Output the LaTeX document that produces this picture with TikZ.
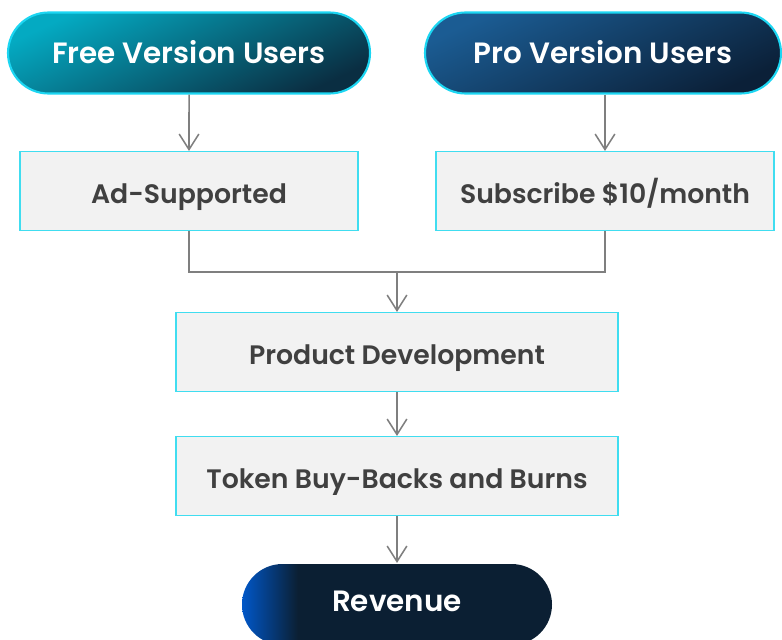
\documentclass[tikz,border=0pt]{standalone}
\usepackage{fontspec}
\setmainfont{Poppins}[BoldFont={Poppins SemiBold}]
\usetikzlibrary{positioning,shapes.misc,arrows.meta}
\definecolor{freeLight}{HTML}{04AAC2}
\definecolor{freeMid}{HTML}{0890A6}
\definecolor{freeDark}{HTML}{0A2E42}
\definecolor{proLight}{HTML}{1B5C93}
\definecolor{proDark}{HTML}{0B2038}
\definecolor{revBlue}{HTML}{0057C8}
\definecolor{revDark}{HTML}{0B1F33}
\definecolor{pillBorder}{HTML}{1CD6F2}
\definecolor{boxBorder}{HTML}{40DDF0}
\definecolor{boxFill}{HTML}{F2F2F2}
\definecolor{boxText}{HTML}{404040}
\definecolor{arrowGray}{HTML}{7F7F7F}
\pgfdeclarehorizontalshading{revenueShade}{100bp}{color(0bp)=(revBlue); color(25bp)=(revBlue); color(34bp)=(revDark); color(100bp)=(revDark)}
\newcommand{\px}{0.025cm}
\tikzstyle{pillStyle} = [rounded rectangle, draw=pillBorder, line width=1.5pt, minimum height=81*\px, text=white, font=\fontsize{20.9}{24}\selectfont\bfseries, inner sep=0pt, text height=16pt, text depth=1.4pt]
\tikzstyle{boxStyle} = [rectangle, draw=boxBorder, fill=boxFill, line width=0.8pt, minimum height=79*\px, text=boxText, font=\fontsize{19}{22}\selectfont\bfseries, inner sep=0pt, text height=18pt, text depth=0.7pt]
\tikzstyle{flowLine} = [draw=arrowGray, line width=1.1pt]
\tikzstyle{flowArrow} = [flowLine, -{Straight Barb[length=11pt,width=14pt]}]
\begin{document}
\begin{tikzpicture}[x=\px, y=-\px]
  \useasboundingbox (0,0) rectangle (782,639);
  % user groups
  \node [pillStyle, minimum width=362*\px, top color=freeLight, middle color=freeMid, bottom color=freeDark, shading angle=25] (freeUsers) at (189,53) {Free Version Users};
  \node [pillStyle, minimum width=356*\px, top color=proLight, bottom color=proDark, shading angle=25] (proUsers) at (603,53) {Pro Version Users};
  % income sources
  \node [boxStyle, minimum width=338*\px] (adSupported) at (189,191) {Ad-Supported};
  \node [boxStyle, minimum width=338*\px] (subscribe) at (605,191) {Subscribe \$10/month};
  \coordinate (joinPoint) at (397,272);
  \node [boxStyle, minimum width=442*\px] (productDev) at (397,352) {Product Development};
  \node [boxStyle, minimum width=442*\px] (buyBacks) at (397,476) {Token Buy-Backs and Burns};
  \node [pillStyle, draw=none, minimum width=310*\px, shading=revenueShade, text depth=5.6pt] (revenue) at (397,604.5) {Revenue};
  % connectors
  \draw [flowArrow] (freeUsers) -- (adSupported);
  \draw [flowArrow] (proUsers.south -| subscribe.north) -- (subscribe);
  \draw [flowLine] (adSupported) |- (joinPoint);
  \draw [flowLine] (subscribe) |- (joinPoint);
  \draw [flowArrow] (joinPoint) -- (productDev);
  \draw [flowArrow] (productDev) -- (buyBacks);
  \draw [flowArrow] (buyBacks) -- (revenue);
\end{tikzpicture}
\end{document}
